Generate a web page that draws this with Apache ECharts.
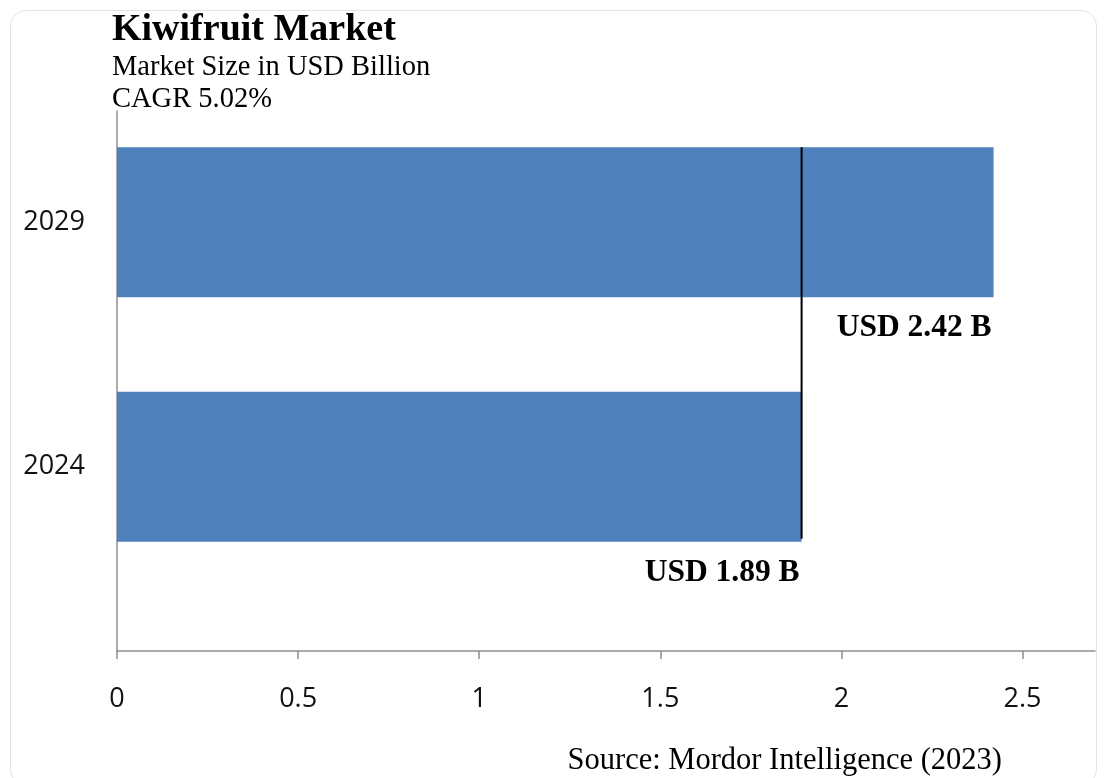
<!DOCTYPE html>
<html>
<head>
<meta charset="utf-8">
<script src="https://cdn.jsdelivr.net/npm/echarts@6/dist/echarts.min.js"></script>
<style>
  html, body { margin: 0; padding: 0; background: #fff; }
  #wrap { position: relative; width: 1104px; height: 778px; overflow: hidden; }
  #frame { position: absolute; left: 10px; top: 10px; width: 1087px; height: 776px;
           border: 1.5px solid #e4e4e4; border-radius: 16px; box-sizing: border-box; }
  #chart { position: absolute; left: 0; top: 0; width: 1104px; height: 778px; }
</style>
</head>
<body>
<div id="wrap"><div id="frame"></div><div id="chart"></div></div>
<script>
// ---- data ----
const years = ['2024', '2029'];
const values = [1.89, 2.42];
const valueLabels = ['USD 1.89 B', 'USD 2.42 B'];
const xTicks = [0, 0.5, 1, 1.5, 2, 2.5];
const xMax = 2.7;
const titleText = 'Kiwifruit Market';
const subtitleLines = ['Market Size in USD Billion', 'CAGR 5.02%'];
const sourceText = 'Source: Mordor Intelligence (2023)';
const markerValue = 1.89; // reference line at the 2024 value

// ---- styles ----
const BAR_W = 150;
const SERIF = '"Liberation Serif", "Times New Roman", serif';
const SANS = '"Open Sans", "Noto Sans", sans-serif';
const AXIS_GRAY = '#8f8f8f';

const chart = echarts.init(document.getElementById('chart'), null, { renderer: 'canvas' });

const option = {
  animation: false,
  backgroundColor: 'transparent',
  title: [
    { text: titleText, left: 107, top: 6,
      textStyle: { fontFamily: SERIF, fontWeight: 'bold', fontSize: 38, color: '#000' } },
    { text: subtitleLines[0], left: 107, top: 48,
      textStyle: { fontFamily: SERIF, fontWeight: 'normal', fontSize: 28.5, color: '#000' } },
    { text: subtitleLines[1], left: 107, top: 80,
      textStyle: { fontFamily: SERIF, fontWeight: 'normal', fontSize: 28.5, color: '#000' } },
    { text: sourceText, right: 97, top: 740,
      textStyle: { fontFamily: SERIF, fontWeight: 'normal', fontSize: 30.5, color: '#000' } }
  ],
  grid: [
    // axes frame
    { left: 117, right: 9, top: 111, bottom: 127, containLabel: false },
    // bars
    { left: 117, right: 9, top: 100, height: 489, containLabel: false }
  ],
  xAxis: [
    { gridIndex: 0, type: 'value', min: 0, max: xMax, interval: 0.5,
      axisLine: { show: true, lineStyle: { color: AXIS_GRAY, width: 1.5 } },
      axisTick: { show: true, length: 8, lineStyle: { color: AXIS_GRAY, width: 1.5 }, customValues: xTicks },
      axisLabel: { show: true, customValues: xTicks, margin: 35, fontFamily: SANS, fontSize: 27, color: '#111' },
      splitLine: { show: false } },
    { gridIndex: 1, type: 'value', min: 0, max: xMax, show: false, splitLine: { show: false } }
  ],
  yAxis: [
    { gridIndex: 0, type: 'value', min: 0, max: 1,
      axisLine: { show: true, onZero: false, lineStyle: { color: AXIS_GRAY, width: 1.5 } },
      axisTick: { show: false }, axisLabel: { show: false }, splitLine: { show: false } },
    { gridIndex: 1, type: 'category', data: years,
      axisLine: { show: false }, axisTick: { show: false }, splitLine: { show: false },
      axisLabel: { show: true, margin: 32, fontFamily: SANS, fontSize: 27, color: '#111' } }
  ],
  series: [
    {
      type: 'bar', xAxisIndex: 1, yAxisIndex: 1,
      data: values, barWidth: BAR_W,
      itemStyle: { color: '#4f81bd' },
      label: {
        show: true,
        position: ['100%', '100%'],
        align: 'right', verticalAlign: 'top',
        offset: [-2, 15],
        formatter: p => valueLabels[p.dataIndex],
        fontFamily: SERIF, fontWeight: 'bold', fontSize: 31.5, color: '#000'
      }
    },
    {
      type: 'custom', xAxisIndex: 1, yAxisIndex: 1, silent: true, z: 5,
      data: [[markerValue]],
      renderItem: function (params, api) {
        const v = api.value(0);
        const top = api.coord([v, years.length - 1]);
        const bot = api.coord([v, 0]);
        return {
          type: 'line',
          shape: { x1: top[0], y1: top[1] - BAR_W / 2, x2: bot[0], y2: bot[1] + BAR_W / 2 - 3 },
          style: { stroke: '#000', lineWidth: 2 }
        };
      }
    }
  ]
};
chart.setOption(option);
</script>
</body>
</html>
